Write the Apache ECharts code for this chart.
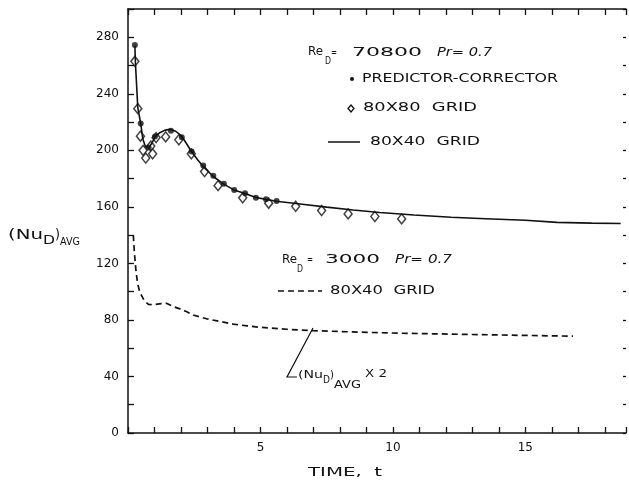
<!DOCTYPE html>
<html>
<head>
<meta charset="utf-8">
<script src="https://cdn.jsdelivr.net/npm/echarts@6/dist/echarts.min.js"></script>
<style>
  html, body { margin: 0; padding: 0; background: #fff; }
  #nusselt { width: 629px; height: 482px; }
</style>
</head>
<body>
<div id="nusselt"></div>
<script>
// Re_D = 70800, 80x40 grid (solid line)
const solidT = [0.26, 0.28, 0.37, 0.48, 0.56, 0.66, 0.78, 0.9, 1.02, 1.2, 1.4, 1.6, 1.8, 2.03, 2.2, 2.4, 2.62, 2.84, 3.22, 3.6, 4.0, 4.42, 4.8, 5.2, 5.6, 6.5, 7.5, 8.5, 9.5, 10.8, 12.2, 13.5, 15, 16.2, 17.5, 18.6];
const solidNu = [274, 262, 230, 219, 208, 202.5, 201.8, 205, 209.5, 212.5, 214.3, 214.8, 213.5, 210, 205, 199, 193.5, 188.5, 181.5, 176.3, 172, 169.5, 166.8, 165.3, 164, 162, 159.8, 157.8, 156, 154.2, 152.6, 151.6, 150.5, 149, 148.5, 148.2];

// Re_D = 70800, 80x80 grid (diamonds)
const gridT = [0.26, 0.37, 0.47, 0.57, 0.67, 0.86, 0.93, 1.06, 1.42, 1.92, 2.39, 2.89, 3.4, 4.33, 5.31, 6.33, 7.31, 8.31, 9.32, 10.33];
const gridNu = [263, 229.5, 210, 200, 194.5, 203, 197.5, 209, 209.5, 207.5, 197.5, 185, 175, 166.4, 162.6, 160.4, 157.4, 155, 153.2, 151.5];

// Re_D = 70800, predictor-corrector (filled dots)
const pcT = [0.26, 0.48, 0.78, 1.02, 1.62, 2.03, 2.4, 2.84, 3.22, 3.62, 4.01, 4.42, 4.83, 5.21, 5.61];
const pcNu = [274.6, 219, 202, 209.8, 213.8, 209.3, 199.2, 189.2, 182, 176.3, 172, 169.7, 166.4, 165.4, 164.2];

// Re_D = 3000, 80x40 grid, (Nu_D)avg x 2 (dashed)
const lowT = [0.2, 0.24, 0.3, 0.36, 0.44, 0.52, 0.62, 0.77, 0.9, 1.05, 1.25, 1.45, 1.7, 1.96, 2.2, 2.46, 2.97, 3.5, 3.97, 4.5, 4.98, 5.99, 7.0, 8.0, 9.0, 10.3, 11.5, 13, 14.5, 16.8];
const lowNu = [140, 128, 115, 106, 100, 97, 93.5, 91, 90.8, 91, 91.5, 91.8, 89.5, 87.8, 86, 83.5, 80.8, 78.8, 77, 75.8, 74.8, 73.4, 72.4, 71.8, 71.2, 70.6, 70.2, 69.7, 69.2, 68.5];

const xLabels = [5, 10, 15];
const yLabels = [0, 40, 80, 120, 160, 200, 240, 280];

const pairs = (xs, ys) => xs.map((x, i) => [x, ys[i]]);
const ink = '#111';
const fam = '"DejaVu Sans", sans-serif';

// stretch a text to the width it has in the hand lettering
const mctx = document.createElement('canvas').getContext('2d');
function txt(str, x, y, w, size, italic) {
  const font = (italic ? 'italic ' : '') + size + 'px ' + fam;
  mctx.font = font;
  const sx = w / mctx.measureText(str).width;
  return {
    type: 'text', x: x, y: y, scaleX: sx, z: 10,
    style: { text: str, x: 0, y: 0, font: font, fill: ink,
             verticalAlign: 'middle', textVerticalAlign: 'middle' }
  };
}

const frameLine = { show: true, onZero: false, lineStyle: { color: ink, width: 1.5 } };
const innerTick = { show: true, inside: true, length: 6, lineStyle: { color: ink, width: 1.3 } };

let chart = echarts.init(document.getElementById('nusselt'), null, { renderer: 'canvas' });
let option = {
  backgroundColor: '#fff',
  animation: false,
  grid: { left: 128, right: 2, top: 9, bottom: 49 },
  xAxis: [
    {
      type: 'value', position: 'bottom', min: 0, max: 18.8, interval: 1,
      axisLine: frameLine,
      axisTick: innerTick,
      axisLabel: {
        margin: 9, color: ink, fontFamily: fam, fontSize: 12,
        formatter: v => (xLabels.indexOf(v) >= 0 ? String(v) : '')
      },
      splitLine: { show: false }
    },
    {
      type: 'value', position: 'top', min: 0, max: 18.8, interval: 1,
      axisLine: frameLine,
      axisTick: innerTick,
      axisLabel: { show: false },
      splitLine: { show: false }
    }
  ],
  yAxis: [
    {
      type: 'value', position: 'left', min: 0, max: 300, interval: 20,
      axisLine: frameLine,
      axisTick: innerTick,
      axisLabel: {
        margin: 9, color: ink, fontFamily: fam, fontSize: 12,
        formatter: v => (yLabels.indexOf(v) >= 0 ? String(v) : '')
      },
      splitLine: { show: false }
    },
    {
      type: 'value', position: 'right', min: 0, max: 300, interval: 20,
      axisLine: { show: false, onZero: false },
      axisTick: { show: true, inside: true, length: 3, lineStyle: { color: ink, width: 1.3 } },
      axisLabel: { show: false },
      splitLine: { show: false }
    }
  ],
  series: [
    {
      name: '80X40 GRID', type: 'line', data: pairs(solidT, solidNu),
      showSymbol: false, symbol: 'none',
      lineStyle: { color: ink, width: 1.6 }
    },
    {
      name: '80X40 GRID Re3000', type: 'line', data: pairs(lowT, lowNu),
      showSymbol: false, symbol: 'none',
      lineStyle: { color: ink, width: 1.7, type: [6, 4] }
    },
    {
      name: '80X80 GRID', type: 'scatter', data: pairs(gridT, gridNu),
      symbol: 'diamond', symbolSize: [8, 10],
      itemStyle: { color: '#fff', borderColor: ink, borderWidth: 1.5 }
    },
    {
      name: 'PREDICTOR-CORRECTOR', type: 'scatter', data: pairs(pcT, pcNu),
      symbol: 'circle', symbolSize: 6, z: 5,
      itemStyle: { color: ink }
    }
  ],
  graphic: [
    // upper key
    txt('Re', 308, 52, 15, 12),
    txt('D', 325, 61, 6, 10),
    txt('=', 331, 53, 6, 11),
    txt('70800', 352, 53, 70, 12),
    txt('Pr= 0.7', 437, 53, 55, 12, true),
    { type: 'circle', shape: { cx: 352, cy: 79, r: 2 }, style: { fill: ink } },
    txt('PREDICTOR-CORRECTOR', 362, 79, 196, 11.5),
    { type: 'polygon', shape: { points: [[351, 105], [354, 108.5], [351, 112], [348, 108.5]] },
      style: { fill: '#fff', stroke: ink, lineWidth: 1.3 } },
    txt('80X80  GRID', 363, 108, 114, 11.5),
    { type: 'line', shape: { x1: 328, y1: 142, x2: 360, y2: 142 }, style: { stroke: ink, lineWidth: 1.5 } },
    txt('80X40  GRID', 370, 142, 110, 11.5),
    // lower key
    txt('Re', 282, 260, 15, 12),
    txt('D', 297, 269, 6, 10),
    txt('=', 307, 260, 6, 11),
    txt('3000', 325, 260, 55, 12),
    txt('Pr= 0.7', 395, 260, 57, 12, true),
    { type: 'line', shape: { x1: 278, y1: 291, x2: 322, y2: 291 },
      style: { stroke: ink, lineWidth: 1.5, lineDash: [6, 4] } },
    txt('80X40  GRID', 330, 291, 105, 11.5),
    // leader to the dashed curve
    { type: 'polyline', shape: { points: [[313, 328], [287, 377], [297, 377]] },
      style: { stroke: ink, lineWidth: 1.2, fill: null } },
    txt('(Nu', 298, 375, 25, 11),
    txt('D', 323, 380, 7, 10),
    txt(')', 330, 375, 4, 11),
    txt('AVG', 334, 385, 27, 10),
    txt('X 2', 365, 374, 22, 10),
    // axis titles
    txt('(Nu', 8, 235, 35, 14),
    txt('D', 43, 241, 12, 12),
    txt(')', 55, 235, 5, 14),
    txt('AVG', 60, 242, 20, 11),
    txt('TIME,  t', 308, 473, 74, 12)
  ]
};
chart.setOption(option);
</script>
</body>
</html>
